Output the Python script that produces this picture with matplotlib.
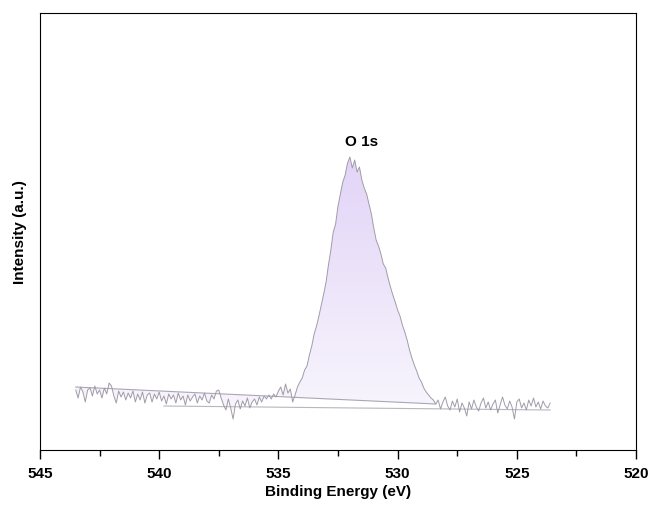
import numpy as np
import matplotlib
matplotlib.use("Agg")
import matplotlib.pyplot as plt
from matplotlib.colors import LinearSegmentedColormap

plt.rcParams['font.family'] = ['Liberation Sans', 'DejaVu Sans']

# binding energy grid (eV), 543.5 -> 523.6 in 0.1 eV steps
energy = np.round(np.arange(543.5, 523.55, -0.1), 1)

# intensity (a.u.)
left_part = [60, 52, 63, 58, 48, 60, 62, 54, 64, 56,
             60, 52, 62, 56, 67, 64, 54, 47, 59, 53,
             58, 50, 57, 52, 59, 48, 56, 50, 58, 47,
             55, 57, 48, 56, 51, 58, 49, 54, 46, 56,
             51, 55, 47, 57, 50, 54, 45, 55, 49, 53,
             56, 47, 54, 50, 57, 49, 47, 55, 51, 59,
             60, 52, 45, 40, 51, 42, 31, 46, 50, 41,
             49, 44, 52, 42, 48, 51, 45, 53, 48, 54,
             51, 55, 51, 56, 53, 59, 63, 55, 66]
peak_part = [57, 61, 48, 55, 63, 68, 72, 80, 84, 95,
             104, 116, 124, 134, 145, 156, 168, 185, 200, 218,
             226, 244, 256, 268, 275, 287, 293, 282, 290, 278,
             283, 270, 262, 256, 246, 236, 222, 210, 204, 196,
             186, 182, 172, 163, 155, 148, 140, 134, 125, 118,
             110, 100, 92, 85, 79, 72, 68, 62, 58, 55,
             52, 50, 46]
right_part = [50, 41, 48, 53, 44, 40, 49, 43, 51, 38,
              47, 42, 34, 48, 41, 50, 43, 39, 47, 52,
              42, 48, 40, 46, 50, 37, 45, 53, 45, 41,
              49, 43, 31, 48, 51, 42, 47, 40, 50, 44,
              52, 43, 48, 41, 49, 44, 42, 47]
intensity = np.array(left_part + peak_part + right_part, dtype=float)
n = min(len(energy), len(intensity))
energy, intensity = energy[:n], intensity[:n]

# background lines (start/end energies and intensities)
bg1_e = [543.5, 528.4]
bg1_i = [63, 46]
bg2_e = [539.8, 523.6]
bg2_i = [44, 40]

fig = plt.figure(figsize=(6.51, 5.06), dpi=100)
ax = fig.add_axes([0.0614, 0.1087, 0.9156, 0.8636])

# fill between spectrum and background, with a soft purple gradient
mask = energy >= bg1_e[1]
base = np.interp(energy[mask], bg1_e[::-1], bg1_i[::-1])
poly = ax.fill_between(energy[mask], base, intensity[mask], color='none', lw=0)
cmap = LinearSegmentedColormap.from_list('lav', ['#f8f5fd', '#e2d4f7'])
grad = np.linspace(0, 1, 256).reshape(-1, 1)
im = ax.imshow(grad, cmap=cmap, origin='lower', aspect='auto',
               extent=[543.5, 528.4, 40, 295], zorder=1)
im.set_clip_path(poly.get_paths()[0], transform=ax.transData)

ax.plot(energy, intensity, color='#a09ca8', lw=0.7, zorder=3)
ax.plot(bg1_e, bg1_i, color='#aaa6b4', lw=0.8, zorder=2)
ax.plot(bg2_e, bg2_i, color='#b8b6bf', lw=0.8, zorder=2)

ax.text(531.5, 309, 'O 1s', ha='center', va='center', fontsize=11, fontweight='bold')

ax.set_xlim(545, 520)
ax.set_ylim(0, 437)
ax.set_xticks([545, 540, 535, 530, 525, 520])
ax.set_xticks([542.5, 537.5, 532.5, 527.5, 522.5], minor=True)
ax.set_yticks([])
ax.tick_params(axis='x', which='major', direction='out', length=6.5, width=1,
               labelsize=11, pad=5)
ax.tick_params(axis='x', which='minor', direction='out', length=4, width=1)
for lab in ax.get_xticklabels():
    lab.set_fontweight('bold')
ax.set_xlabel('Binding Energy (eV)', fontsize=11, fontweight='bold', labelpad=3)
ax.set_ylabel('Intensity (a.u.)', fontsize=11, fontweight='bold', labelpad=9)

fig.savefig('out.png', dpi=100)
